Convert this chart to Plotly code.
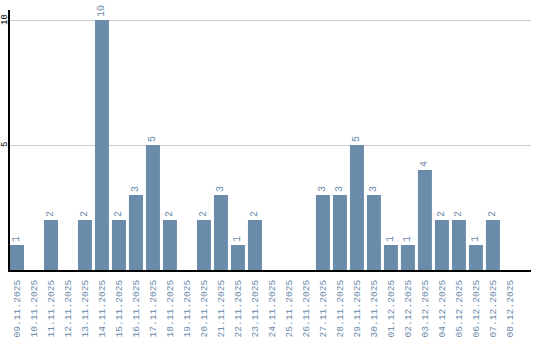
import plotly.graph_objects as go

dates = ["09.11.2025", "10.11.2025", "11.11.2025", "12.11.2025", "13.11.2025",
         "14.11.2025", "15.11.2025", "16.11.2025", "17.11.2025", "18.11.2025",
         "19.11.2025", "20.11.2025", "21.11.2025", "22.11.2025", "23.11.2025",
         "24.11.2025", "25.11.2025", "26.11.2025", "27.11.2025", "28.11.2025",
         "29.11.2025", "30.11.2025", "01.12.2025", "02.12.2025", "03.12.2025",
         "04.12.2025", "05.12.2025", "06.12.2025", "07.12.2025", "08.12.2025"]
counts = [1, 0, 2, 0, 2, 10, 2, 3, 5, 2, 0, 2, 3, 1, 2, 0, 0, 0, 3, 3, 5, 3,
          1, 1, 4, 2, 2, 1, 2, 0]
y_ticks = [5, 10]

bar_color = "#6b8bab"
labels = [str(v) if v else "" for v in counts]

fig = go.Figure(go.Bar(
    x=dates, y=counts, text=labels, textposition="outside", textangle=-90,
    constraintext="none", cliponaxis=False,
    textfont=dict(family="Liberation Mono", size=10, color=bar_color),
    marker=dict(color=bar_color, line=dict(width=0)),
))

for t in y_ticks:
    fig.add_annotation(x=0, xref="paper", y=t, yref="y", text=str(t), textangle=-90,
                       showarrow=False, xanchor="center", yanchor="middle", xshift=-5,
                       borderpad=0,
                       font=dict(family="Liberation Mono", size=9, color="black"))

fig.update_layout(
    width=540, height=340, margin=dict(l=10, r=9, t=10, b=70),
    plot_bgcolor="white", paper_bgcolor="white",
    bargap=3/17, showlegend=False,
    xaxis=dict(type="category", range=[-0.41, 30.24], tickangle=-90, automargin=False,
               tickfont=dict(family="Liberation Mono", size=9.6, color=bar_color),
               showline=True, linecolor="black", linewidth=2, showgrid=False,
               ticks="", ticklabelstandoff=4, zeroline=False, fixedrange=True),
    yaxis=dict(range=[0, 10.4], tickvals=y_ticks, showticklabels=False, automargin=False,
               showline=True, linecolor="black", linewidth=2, showgrid=True,
               gridcolor="#cccccc", gridwidth=1, zeroline=False, ticks=""),
)

fig.write_html("out.html")
